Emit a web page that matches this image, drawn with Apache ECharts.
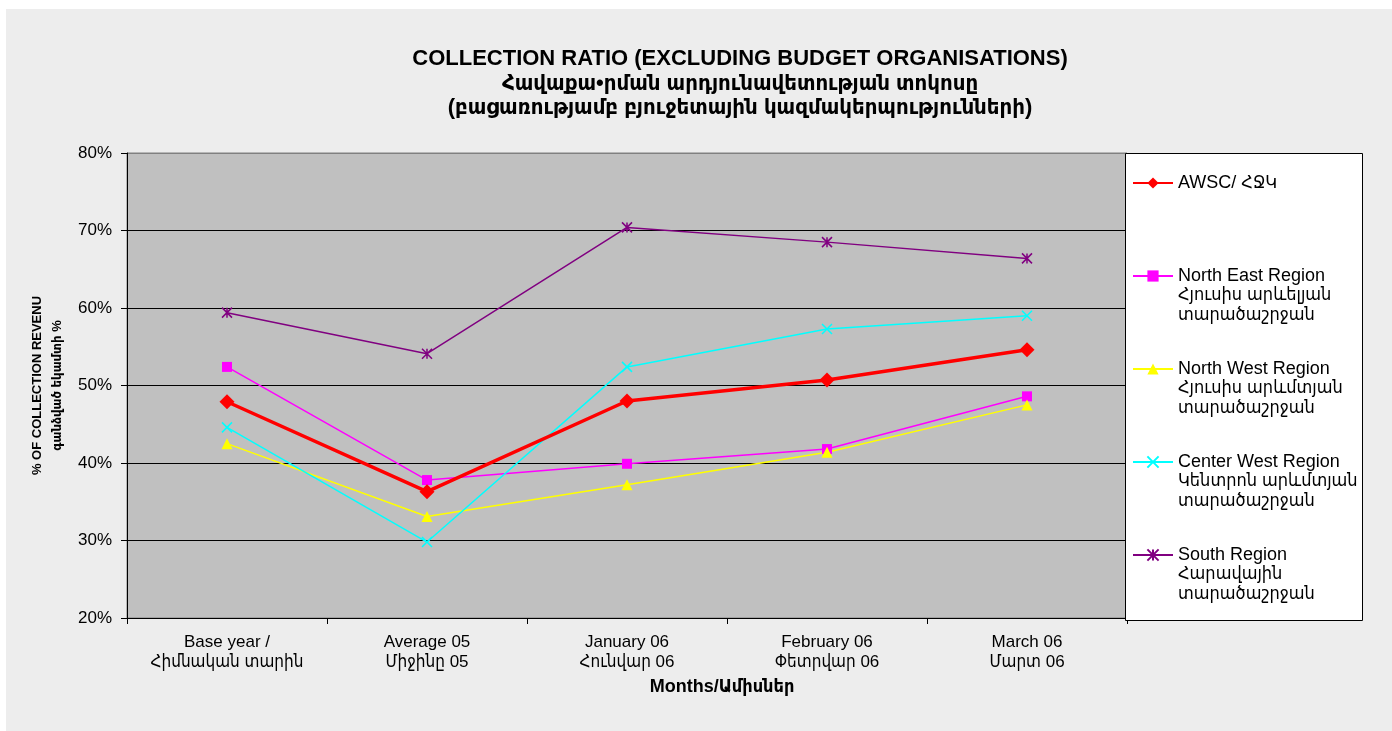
<!DOCTYPE html>
<html>
<head>
<meta charset="utf-8">
<script src="https://cdn.jsdelivr.net/npm/echarts@6/dist/echarts.min.js"></script>
<style>
  html, body { margin: 0; padding: 0; background: #fff; }
  #chart { width: 1392px; height: 731px; }
</style>
</head>
<body>
<div id="chart"></div>
<script>
// categories (two-line labels)
const categories = [
  'Base year /\nՀիմնական տարին',
  'Average 05\nՄիջինը 05',
  'January 06\nՀունվար 06',
  'February 06\nՓետրվար 06',
  'March 06\nՄարտ 06'
]

// values in percent
const awsc = [47.9, 36.3, 48.0, 50.7, 54.6]
const northEast = [52.4, 37.8, 39.9, 41.8, 48.6]
const northWest = [42.5, 33.1, 37.2, 41.4, 47.5]
const centerWest = [44.6, 29.8, 52.4, 57.3, 59.0]
const south = [59.4, 54.1, 70.4, 68.5, 66.4]

const seriesNames = [
  'AWSC/ ՀՋԿ',
  'North East Region',
  'North West Region',
  'Center West Region',
  'South Region'
]
// second and third legend lines
const legendSubLines = {
  'North East Region': ['Հյուսիս արևելյան', 'տարածաշրջան'],
  'North West Region': ['Հյուսիս արևմտյան', 'տարածաշրջան'],
  'Center West Region': ['Կենտրոն արևմտյան', 'տարածաշրջան'],
  'South Region': ['Հարավային', 'տարածաշրջան']
}

const yTicks = { min: 20, max: 80, interval: 10 }

const FONT = "'Liberation Sans', Arial, 'DejaVu Sans Condensed', 'DejaVu Sans', sans-serif"

const chart = echarts.init(document.getElementById('chart'), null, { renderer: 'canvas' })

// x / star markers are drawn as strokes
const xMark = 'path://M0,0L10,10M10,0L0,10'
const starMark = 'path://M0,0L10,10M10,0L0,10M5,0L5,10'

const option = {
  backgroundColor: '#ffffff',
  animation: false,
  textStyle: { fontFamily: FONT },
  title: {
    text: 'COLLECTION RATIO (EXCLUDING BUDGET ORGANISATIONS)\nՀավաքա•րման արդյունավետության տոկոսը\n(բացառությամբ բյուջետային կազմակերպությունների)',
    left: 735,
    top: 42,
    textAlign: 'center',
    textStyle: {
      fontFamily: FONT,
      fontSize: 22,
      fontWeight: 'bold',
      color: '#000',
      lineHeight: 24.5
    }
  },
  graphic: [
    {
      type: 'rect',
      z: -10,
      shape: { x: 6, y: 9, width: 1386, height: 722 },
      style: { fill: '#ededed' }
    },
    {
      type: 'rect',
      z: 1,
      shape: { x: 1125.5, y: 153.5, width: 237, height: 467 },
      style: { fill: '#ffffff', stroke: '#000', lineWidth: 1 }
    },
    {
      type: 'text',
      x: 722,
      y: 687,
      style: {
        text: 'Months/Ամիսներ',
        fontFamily: FONT,
        fontSize: 18,
        fontWeight: 'bold',
        fill: '#000',
        align: 'center',
        verticalAlign: 'middle'
      }
    }
  ],
  grid: {
    left: 127,
    right: 265,
    top: 153,
    bottom: 113,
    show: true,
    backgroundColor: '#c0c0c0',
    borderColor: '#808080',
    borderWidth: 1
  },
  legend: {
    orient: 'vertical',
    left: 1127,
    top: 130,
    z: 5,
    itemGap: -3,
    itemWidth: 40,
    itemHeight: 14,
    data: seriesNames,
    formatter: name => {
      const sub = legendSubLines[name]
      if (!sub) return '{e|}\n{e|}\n{a|' + name + '}\n{e|}\n{e|}'
      return '{e|}\n{e|}\n{a|' + name + '}\n{a|' + sub[0] + '}\n{a|' + sub[1] + '}'
    },
    textStyle: {
      fontFamily: FONT,
      fontSize: 18,
      color: '#000',
      rich: {
        a: { fontFamily: FONT, fontSize: 18, lineHeight: 19.5, color: '#000' },
        e: { fontSize: 18, lineHeight: 19.5 }
      }
    }
  },
  xAxis: {
    type: 'category',
    data: categories,
    boundaryGap: true,
    axisLine: { lineStyle: { color: '#000', width: 1 } },
    axisTick: { show: true, length: 6, lineStyle: { color: '#000' } },
    axisLabel: {
      margin: 14,
      fontFamily: FONT,
      fontSize: 17,
      lineHeight: 20,
      color: '#000'
    },
    splitLine: { show: false }
  },
  yAxis: {
    type: 'value',
    min: yTicks.min,
    max: yTicks.max,
    interval: yTicks.interval,
    name: '% OF COLLECTION REVENU\nգանձված եկամտի %',
    nameLocation: 'middle',
    nameRotate: 90,
    nameGap: 56,
    nameTextStyle: {
      fontFamily: FONT,
      fontSize: 13,
      fontWeight: 'bold',
      lineHeight: 20,
      color: '#000'
    },
    axisLine: { show: true, lineStyle: { color: '#000', width: 1 } },
    axisTick: { show: true, length: 6, lineStyle: { color: '#000' } },
    axisLabel: {
      margin: 15,
      fontFamily: FONT,
      fontSize: 17,
      color: '#000',
      formatter: '{value}%'
    },
    splitLine: {
      lineStyle: {
        color: ['#000', '#000', '#000', '#000', '#000', '#000', '#808080'],
        width: 1
      }
    }
  },
  series: [
    {
      name: seriesNames[0],
      type: 'line',
      data: awsc,
      symbol: 'diamond',
      symbolSize: 15,
      z: 10,
      lineStyle: { color: '#ff0000', width: 3.5 },
      itemStyle: { color: '#ff0000' }
    },
    {
      name: seriesNames[1],
      type: 'line',
      data: northEast,
      symbol: 'rect',
      symbolSize: 10,
      lineStyle: { color: '#ff00ff', width: 1.5 },
      itemStyle: { color: '#ff00ff' }
    },
    {
      name: seriesNames[2],
      type: 'line',
      data: northWest,
      symbol: 'triangle',
      symbolSize: 11,
      lineStyle: { color: '#ffff00', width: 1.5 },
      itemStyle: { color: '#ffff00' }
    },
    {
      name: seriesNames[3],
      type: 'line',
      data: centerWest,
      symbol: xMark,
      symbolSize: 10,
      lineStyle: { color: '#00ffff', width: 1.5 },
      itemStyle: { color: '#00ffff', borderColor: '#00ffff', borderWidth: 1.5 }
    },
    {
      name: seriesNames[4],
      type: 'line',
      data: south,
      symbol: starMark,
      symbolSize: 10,
      lineStyle: { color: '#800080', width: 1.5 },
      itemStyle: { color: '#800080', borderColor: '#800080', borderWidth: 1.5 }
    }
  ]
}

chart.setOption(option)
</script>
</body>
</html>
